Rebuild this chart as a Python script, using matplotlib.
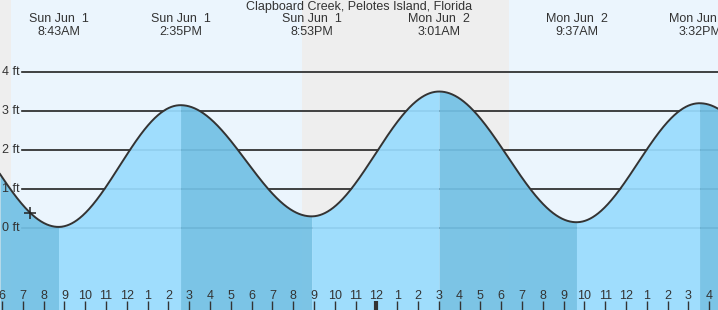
import numpy as np
import matplotlib
matplotlib.use("Agg")
import matplotlib.pyplot as plt

plt.rcParams['font.family'] = ['Liberation Sans', 'DejaVu Sans']

title = "Clapboard Creek, Pelotes Island, Florida"

# tide events, hours from Sun Jun 1 00:00 (first and last are just outside the view)
tide_hours = [2.40, 8.717, 14.583, 20.883, 27.017, 33.617, 39.533, 45.90]
tide_ft = [3.30, 0.03, 3.15, 0.30, 3.50, 0.15, 3.20, 0.25]
tide_days = ["", "Sun Jun  1", "Sun Jun  1", "Sun Jun  1", "Mon Jun  2", "Mon Jun  2", "Mon Jun  2", ""]
tide_times = ["", "8:43AM", "2:35PM", "8:53PM", "3:01AM", "9:37AM", "3:32PM", ""]

# daylight (sunrise, sunset) in hours from Sun 00:00
daylight = [(6.43, 20.42), (30.37, 44.40)]

now_hour = 7.35
ft_levels = [0, 1, 2, 3, 4]

x0, x1 = 5.904, 40.42
y0, y1 = -2.10, 5.846


def tide_at(t):
    i = np.clip(np.searchsorted(tide_hours, t) - 1, 0, len(tide_hours) - 2)
    ta, tb = np.array(tide_hours)[i], np.array(tide_hours)[i + 1]
    ha, hb = np.array(tide_ft)[i], np.array(tide_ft)[i + 1]
    p = (t - ta) / (tb - ta)
    return hb + (ha - hb) * (1 + np.cos(np.pi * p)) / 2


fig = plt.figure(figsize=(7.18, 3.10), dpi=100)
ax = fig.add_axes([0, 0, 1, 1])
ax.set_xlim(x0, x1)
ax.set_ylim(y0, y1)
ax.axis('off')

# night / day background
ax.axvspan(x0, x1, color='#eeeeee', zorder=0)
for rise, sset in daylight:
    ax.axvspan(rise, sset, color='#ebf5fd', zorder=0, lw=0)

# level lines
for lv in ft_levels:
    ax.axhline(lv, xmin=22 / 718, xmax=1, color='#222222', lw=1.2, zorder=1)
    ax.text(20 / 718, lv, f"{lv} ft", transform=ax.get_yaxis_transform(),
            ha='right', va='center', fontsize=9, color='#333333', zorder=5)

# tide fill: falling = dark, rising = light
t = np.linspace(x0, x1, 2000)
h = tide_at(t)
for k in range(len(tide_hours) - 1):
    a, b = tide_hours[k], tide_hours[k + 1]
    seg = np.linspace(max(a, x0), min(b, x1), 300)
    if seg[-1] <= seg[0]:
        continue
    col = '#73c1e5' if tide_ft[k] > tide_ft[k + 1] else '#99dcfe'
    ax.fill_between(seg, y0, tide_at(seg), color=col, alpha=0.93, lw=0, zorder=2)
ax.plot(t, h, color='#333333', lw=1.4, zorder=3)

ax.plot([now_hour], [tide_at(now_hour)], marker='+', ms=8, mew=1.1,
        color='#222222', zorder=4)

# labels on top
ax.text(0.5, 1 - 7 / 310, title, transform=ax.transAxes, ha='center',
        va='center', fontsize=9, color='#333333')
for th, d, tm in zip(tide_hours, tide_days, tide_times):
    if not d:
        continue
    ax.text(th, 1 - 19 / 310, d, transform=ax.get_xaxis_transform(),
            ha='center', va='center', fontsize=9, color='#333333')
    ax.text(th, 1 - 32 / 310, tm, transform=ax.get_xaxis_transform(),
            ha='center', va='center', fontsize=9, color='#333333')

# hour ticks along bottom
for hr in range(6, 41):
    lab = str((hr - 1) % 12 + 1)
    ax.text(hr, 14 / 310, lab, transform=ax.get_xaxis_transform(),
            ha='center', va='center', fontsize=9, color='#333333', zorder=5)
    lw = 3 if hr % 24 == 0 else 1
    ax.plot([hr, hr], [0, 9 / 310], transform=ax.get_xaxis_transform(),
            color='#333333', lw=lw, zorder=5, solid_capstyle='butt')

fig.savefig('out.png', dpi=100)
